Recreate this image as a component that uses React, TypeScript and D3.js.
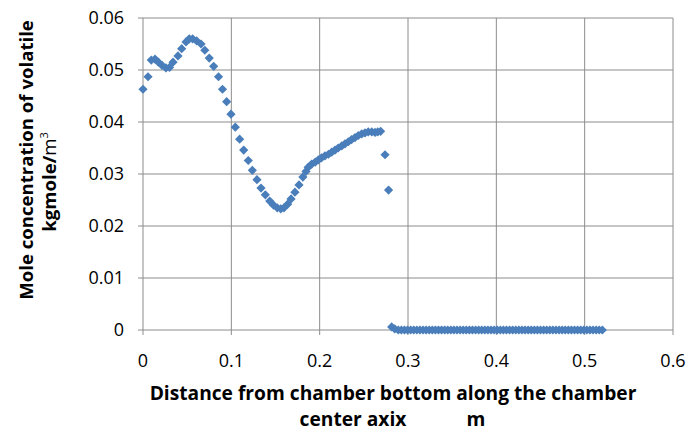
import React from "react";
import * as d3 from "d3";

const distance: number[] = [
  0.0, 0.0057, 0.0094, 0.0136, 0.0174, 0.0215, 0.026, 0.03, 0.034, 0.0396,
  0.0438, 0.0487, 0.0524, 0.0562, 0.0608, 0.0657, 0.07, 0.075, 0.08, 0.0855,
  0.09, 0.0947, 0.0996, 0.1045, 0.1094, 0.114, 0.1192, 0.1238, 0.129, 0.1336,
  0.1385, 0.1435, 0.1478, 0.152, 0.156, 0.1596, 0.1638, 0.1676, 0.172, 0.1766,
  0.181, 0.1845, 0.187, 0.191, 0.195, 0.1985, 0.202, 0.206, 0.21, 0.2136,
  0.2174, 0.221, 0.225, 0.2287, 0.2325, 0.236, 0.24, 0.2438, 0.2476, 0.2513,
  0.255, 0.259, 0.2627, 0.2657, 0.269, 0.274, 0.278, 0.2815, 0.285,
  0.289, 0.2925, 0.296, 0.2995, 0.303, 0.3065, 0.31, 0.3135, 0.317, 0.3205,
  0.324, 0.3275, 0.331, 0.3345, 0.338, 0.3415, 0.345, 0.3485, 0.352, 0.3555,
  0.359, 0.3625, 0.366, 0.3695, 0.373, 0.3765, 0.38, 0.3835, 0.387, 0.3905,
  0.394, 0.3975, 0.401, 0.4045, 0.408, 0.4115, 0.415, 0.4185, 0.422, 0.4255,
  0.429, 0.4325, 0.436, 0.4395, 0.443, 0.4465, 0.45, 0.4535, 0.457, 0.4605,
  0.464, 0.4675, 0.471, 0.4745, 0.478, 0.4815, 0.485, 0.4885, 0.492, 0.4955,
  0.499, 0.5025, 0.506, 0.5095, 0.513, 0.5165, 0.52,
];

const concentration: number[] = [
  0.0463, 0.0487, 0.0519, 0.0521, 0.0515, 0.0509, 0.0504, 0.0505, 0.0515, 0.0527,
  0.0541, 0.0554, 0.056, 0.056, 0.0556, 0.055, 0.0538, 0.0523, 0.0507, 0.0487,
  0.0463, 0.0439, 0.0415, 0.039, 0.0367, 0.0346, 0.0326, 0.0307, 0.0289, 0.0273,
  0.026, 0.0248, 0.024, 0.0235, 0.0233, 0.0235, 0.0242, 0.0252, 0.0265, 0.0279,
  0.0294, 0.0305, 0.0313, 0.0319, 0.0323, 0.0327, 0.0331, 0.0335, 0.0338, 0.0342,
  0.0346, 0.035, 0.0354, 0.0358, 0.0362, 0.0366, 0.037, 0.0374, 0.0377, 0.0379,
  0.0381, 0.0381, 0.038, 0.0381, 0.0382, 0.0337, 0.0269, 0.0006, 0.0002,
  0, 0, 0, 0, 0, 0, 0, 0, 0, 0,
  0, 0, 0, 0, 0, 0, 0, 0, 0, 0,
  0, 0, 0, 0, 0, 0, 0, 0, 0, 0,
  0, 0, 0, 0, 0, 0, 0, 0, 0, 0,
  0, 0, 0, 0, 0, 0, 0, 0, 0, 0,
  0, 0, 0, 0, 0, 0, 0, 0, 0, 0,
  0, 0, 0, 0, 0, 0, 0,
];

const xTicks: number[] = [0, 0.1, 0.2, 0.3, 0.4, 0.5, 0.6];
const yTicks: number[] = [0, 0.01, 0.02, 0.03, 0.04, 0.05, 0.06];

const xTitleLine1 = "Distance from chamber bottom along the chamber";
const xTitleLine2a = "center axix";
const xTitleLine2b = "m";
const yTitleLine1 = "Mole concentration of volatile";

export default function App() {
  const W = 686;
  const H = 432;
  const left = 143;
  const right = 673;
  const top = 18;
  const bottom = 330;
  const x = d3.scaleLinear().domain([0, 0.6]).range([left, right]);
  const y = d3.scaleLinear().domain([0, 0.06]).range([bottom, top]);
  const diamond = d3.symbol().type(d3.symbolDiamond2).size(54)();
  const grid = "#8c8c8c";
  const font = "'Open Sans', 'Noto Sans', sans-serif";
  const points = distance.map((d, i) => [d, concentration[i]] as [number, number]);

  return (
    <svg
      width={W}
      height={H}
      style={{ position: "absolute", left: 0, top: 0, background: "#fff" }}
      fontFamily={font}
    >
      <rect x={0} y={0} width={W} height={H} fill="#fff" />
      {yTicks.map((t) => (
        <line key={"gy" + t} x1={left - 5} x2={right} y1={y(t)} y2={y(t)} stroke={grid} strokeWidth={1} />
      ))}
      {xTicks.map((t) => (
        <line key={"gx" + t} x1={x(t)} x2={x(t)} y1={top} y2={bottom + 5} stroke={grid} strokeWidth={1} />
      ))}
      {yTicks.map((t) => (
        <text key={"ly" + t} x={124} y={y(t)} dy="0.36em" textAnchor="end" fontSize={18} fill="#000">
          {t === 0 ? "0" : d3.format(".2f")(t)}
        </text>
      ))}
      {xTicks.map((t) => (
        <text key={"lx" + t} x={x(t)} y={367} textAnchor="middle" fontSize={18} fill="#000">
          {t === 0 ? "0" : d3.format(".1f")(t)}
        </text>
      ))}
      {points.map(([dx, cy], i) => (
        <path key={"p" + i} d={diamond} transform={`translate(${x(dx)},${y(cy)})`} fill="#4a7ebb" />
      ))}
      <text x={393} y={400} textAnchor="middle" fontSize={19.2} fontWeight="bold" fill="#000">
        {xTitleLine1}
      </text>
      <text x={353} y={426} textAnchor="middle" fontSize={19.2} fontWeight="bold" fill="#000">
        {xTitleLine2a}
      </text>
      <text x={476} y={426} textAnchor="middle" fontSize={19.2} fontWeight="bold" fill="#000">
        {xTitleLine2b}
      </text>
      <text transform="translate(33,160) rotate(-90)" textAnchor="middle" fontSize={18.6} fontWeight="bold" fill="#000">
        {yTitleLine1}
      </text>
      <text transform="translate(56,182) rotate(-90)" textAnchor="middle" fontSize={18.6} fill="#000">
        <tspan fontWeight="bold">kgmole/</tspan>
        <tspan>m</tspan>
        <tspan fontSize={11} dy={-8}>3</tspan>
      </text>
    </svg>
  );
}
